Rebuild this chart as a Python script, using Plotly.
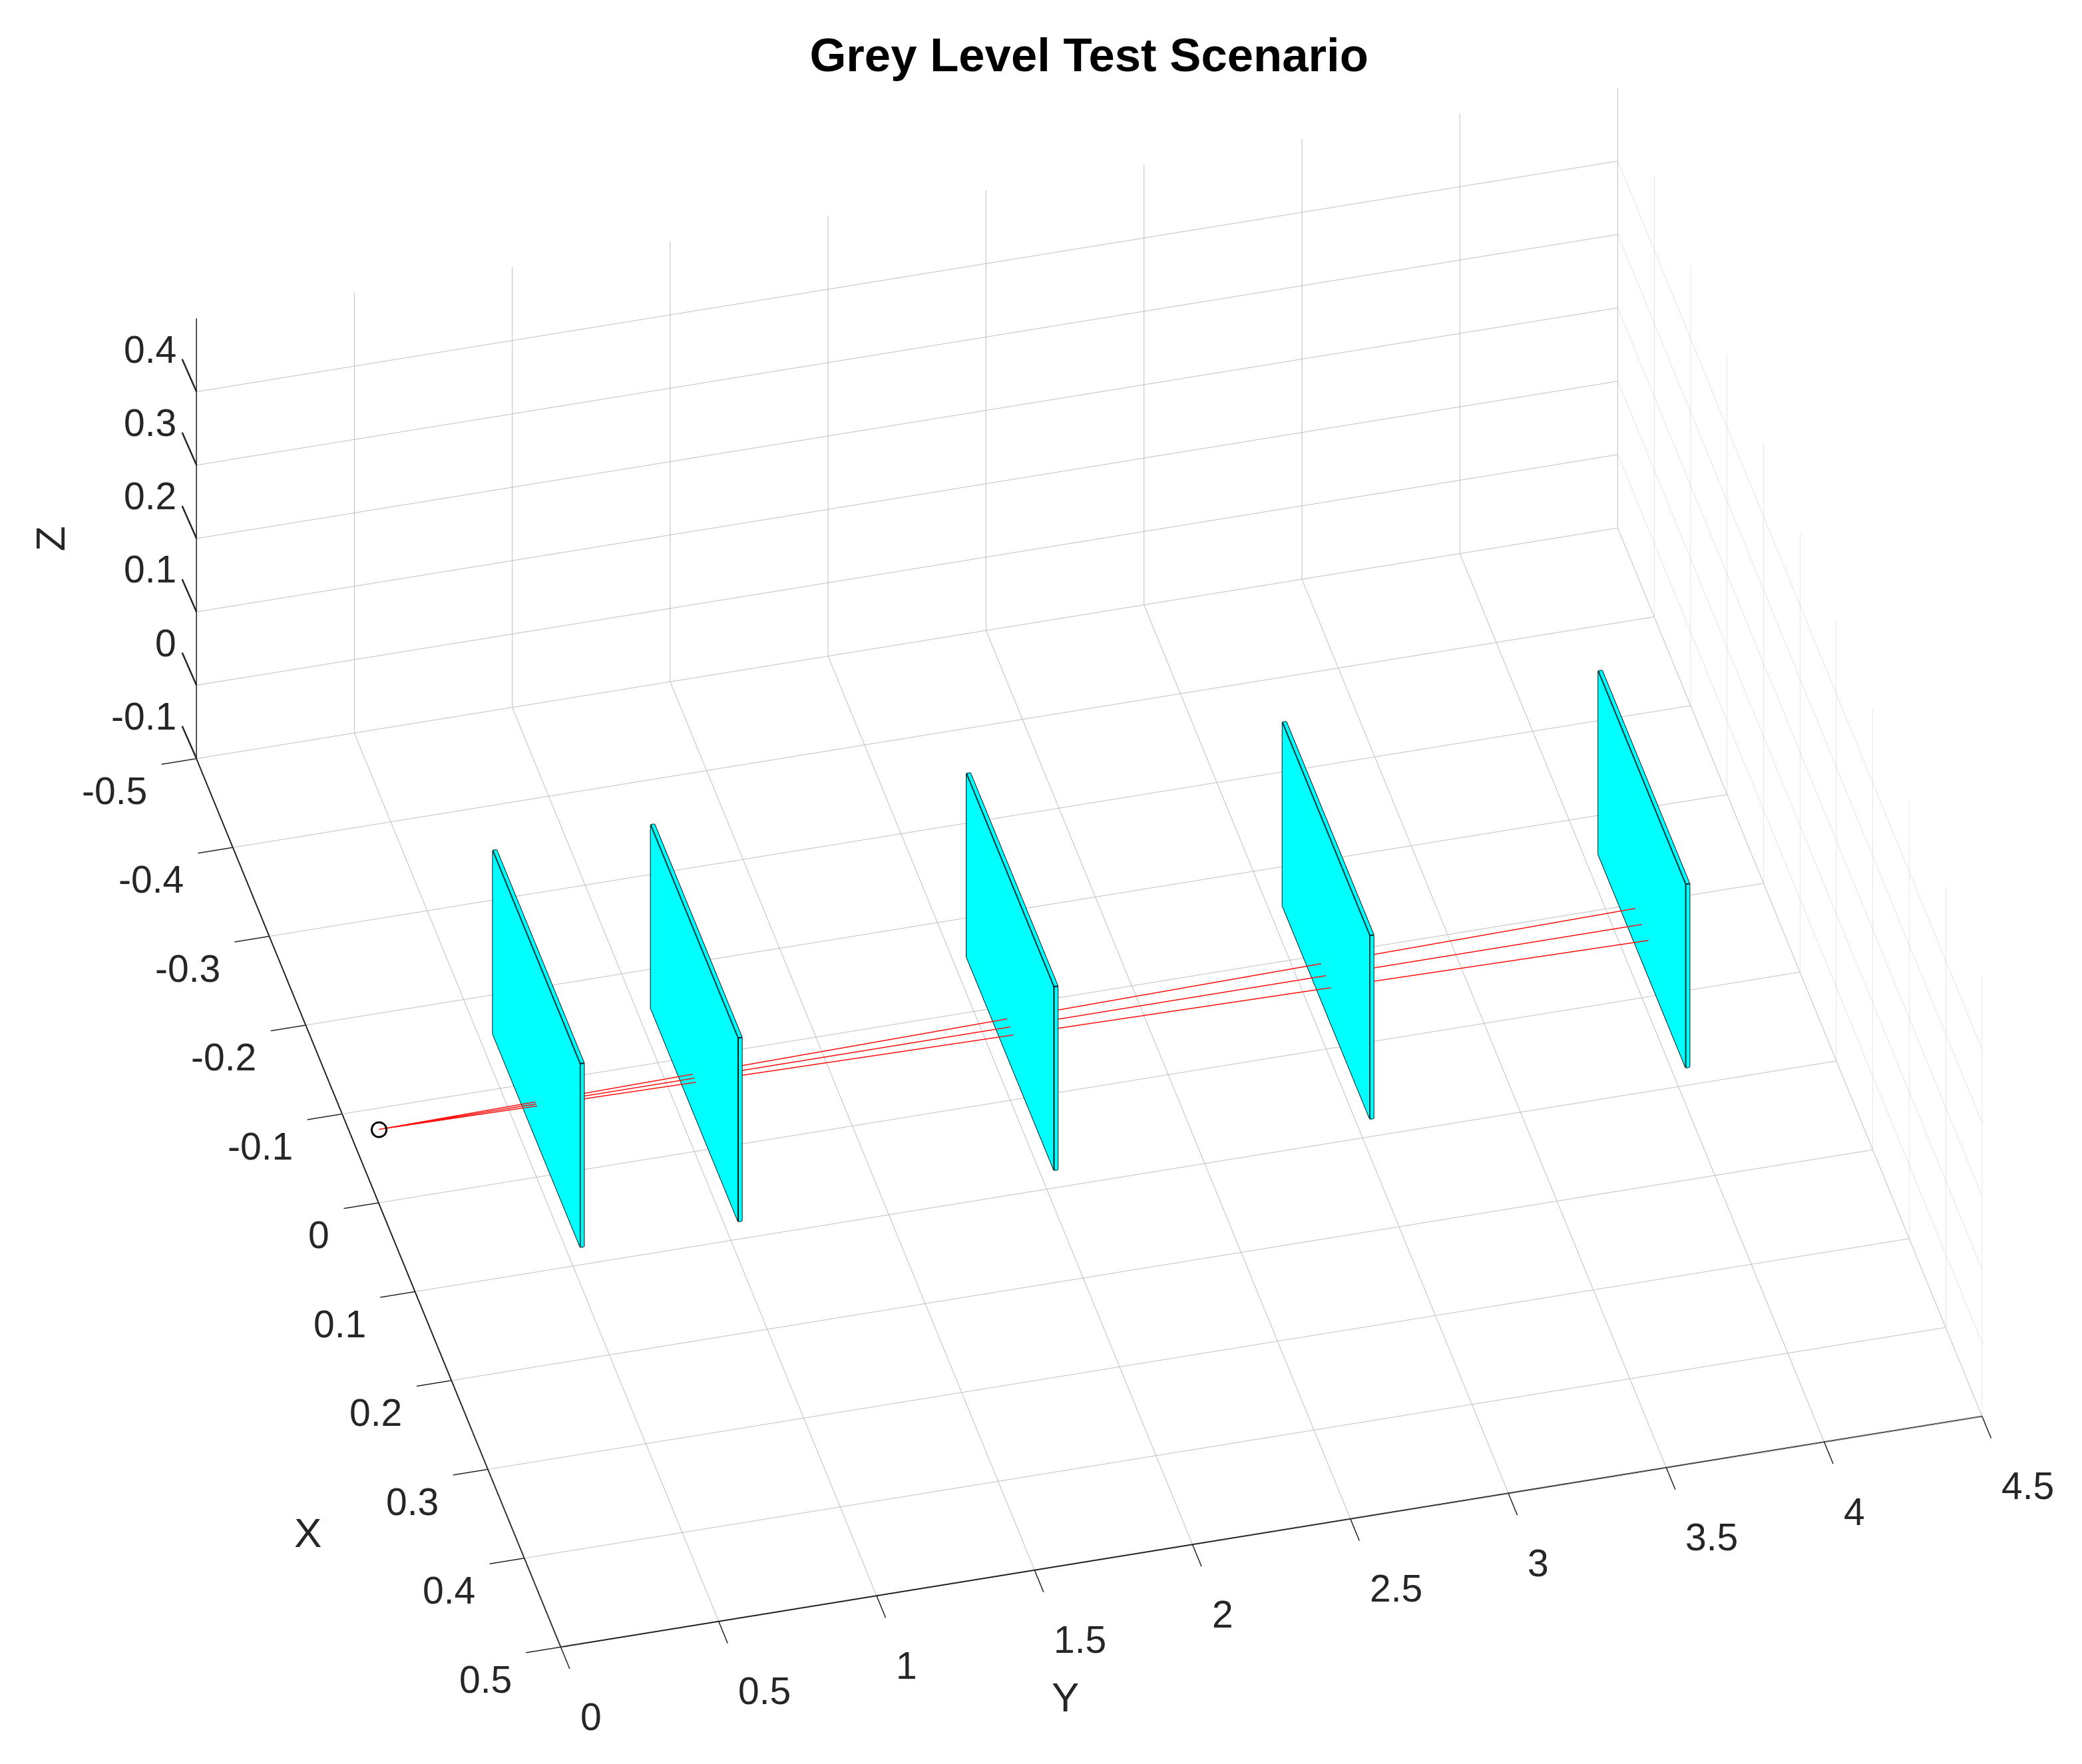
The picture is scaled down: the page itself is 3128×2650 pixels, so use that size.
import plotly.graph_objects as go

title_text = "Grey Level Test Scenario"
panel_y = [0.5, 1.0, 2.0, 3.0, 4.0]
panel_half_width = 0.12
panel_thickness = 0.012
panel_z = [-0.05, 0.2]
ray_half_spread = [-0.0045, 0.0, 0.0045]
ray_origin = [0.0, 0.0, 0.0]
x_ticks = [-0.5, -0.4, -0.3, -0.2, -0.1, 0, 0.1, 0.2, 0.3, 0.4, 0.5]
x_labels = ["-0.5", "-0.4", "-0.3", "-0.2", "-0.1", "0", "0.1", "0.2", "0.3", "0.4", "0.5"]
y_ticks = [0, 0.5, 1, 1.5, 2, 2.5, 3, 3.5, 4, 4.5]
y_labels = ["0", "0.5", "1", "1.5", "2", "2.5", "3", "3.5", "4", "4.5"]
z_ticks = [-0.1, 0, 0.1, 0.2, 0.3, 0.4]
z_labels = ["-0.1", "0", "0.1", "0.2", "0.3", "0.4"]

fig = go.Figure()
FONT = "Liberation Sans"
W = panel_half_width
Z0, Z1 = panel_z
for y in panel_y:
    y1 = y + panel_thickness
    xs = [-W, W, W, -W, -W, W, W, -W]
    ys = [y, y, y1, y1, y, y, y1, y1]
    zs = [Z0, Z0, Z0, Z0, Z1, Z1, Z1, Z1]
    fig.add_trace(go.Mesh3d(
        x=xs, y=ys, z=zs,
        i=[0, 0, 4, 4, 0, 0, 1, 1, 2, 2, 3, 3],
        j=[1, 2, 5, 6, 1, 5, 2, 6, 3, 7, 0, 4],
        k=[2, 3, 6, 7, 5, 4, 6, 5, 7, 6, 4, 7],
        color="#00ffff", flatshading=True, showlegend=False, hoverinfo="skip",
        lighting=dict(ambient=1, diffuse=0, specular=0, roughness=1, fresnel=0),
    ))
    ex, ey, ez = [], [], []
    for a, b in [(0, 1), (1, 2), (2, 3), (3, 0), (4, 5), (5, 6), (6, 7), (7, 4),
                 (0, 4), (1, 5), (2, 6), (3, 7)]:
        ex += [xs[a], xs[b], None]
        ey += [ys[a], ys[b], None]
        ez += [zs[a], zs[b], None]
    fig.add_trace(go.Scatter3d(x=ex, y=ey, z=ez, mode="lines",
                               line=dict(color="#06181a", width=4),
                               showlegend=False, hoverinfo="skip"))

rx, ry, rz = [], [], []
prev = 0.0
for y in panel_y:
    for s in ray_half_spread:
        rx += [ray_origin[0] + s * prev, ray_origin[0] + s * y, None]
        ry += [prev + (panel_thickness if prev else 0), y, None]
        rz += [ray_origin[2], ray_origin[2], None]
    prev = y
fig.add_trace(go.Scatter3d(x=rx, y=ry, z=rz, mode="lines",
                           line=dict(color="#ff1010", width=3),
                           showlegend=False, hoverinfo="skip"))
fig.add_trace(go.Scatter3d(x=[ray_origin[0]], y=[ray_origin[1]], z=[ray_origin[2]],
                           mode="markers",
                           marker=dict(symbol="circle-open", size=14, color="black",
                                       line=dict(color="black", width=4)),
                           showlegend=False, hoverinfo="skip"))

def axis(rng, ticks, tick_style="outside"):
    return dict(range=rng, tickmode="array", tickvals=ticks, showticklabels=False,
                title=dict(text=""),
                showgrid=True, gridcolor="#bfbfbf", gridwidth=2,
                showline=True, linecolor="#1f1f1f", linewidth=4,
                ticks=tick_style, ticklen=54, tickcolor="#1f1f1f", tickwidth=3,
                showbackground=False, zeroline=False, showspikes=False, autorange=False)

TICK = dict(family=FONT, size=57, color="#262626")
LABEL = dict(family=FONT, size=62, color="#262626")
ann = []
for v, t in zip(x_ticks, x_labels):
    ann.append(dict(x=v, y=0, z=-0.1, text=t, showarrow=False, font=TICK,
                    xanchor="right", yanchor="middle", xshift=-72, yshift=-48))
for v, t in zip(y_ticks, y_labels):
    ann.append(dict(x=0.5, y=v, z=-0.1, text=t, showarrow=False, font=TICK,
                    xanchor="left", yanchor="middle", xshift=27, yshift=-104))
for v, t in zip(z_ticks, z_labels):
    ann.append(dict(x=-0.5, y=0, z=v, text=t, showarrow=False, font=TICK,
                    xanchor="right", yanchor="middle", xshift=-28, yshift=64))
    ann.append(dict(x=-0.5, y=0, z=v, text=" ", showarrow=True, arrowhead=0, arrowwidth=2.5,
                    arrowcolor="#262626", ax=-22, ay=-50, standoff=0, borderpad=0,
                    font=dict(size=1)))
ann.append(dict(x=0.5, y=0, z=-0.1, text="X", showarrow=False, font=LABEL,
                xanchor="center", yanchor="middle", xshift=-380, yshift=172))
ann.append(dict(x=0.5, y=2.25, z=-0.1, text="Y", showarrow=False, font=LABEL,
                xanchor="center", yanchor="middle", xshift=-310, yshift=-248))
ann.append(dict(x=-0.5, y=0, z=0.2, text="Z", showarrow=False, font=LABEL, textangle=-90,
                xanchor="center", yanchor="middle", xshift=-220, yshift=0))

EYE = 1.3
fig.update_layout(
    width=3128, height=2650, margin=dict(l=0, r=0, t=0, b=0),
    paper_bgcolor="white", showlegend=False,
    title=dict(text=title_text, x=0.5205, y=0.9718, xanchor="center", yanchor="middle",
               font=dict(family=FONT, size=70.7, color="black", weight="bold")),
    scene=dict(
        domain=dict(x=[0.0413, 1], y=[0.0225, 1]),
        xaxis=axis([-0.5, 0.5], x_ticks),
        yaxis=axis([0, 4.5], y_ticks),
        zaxis=axis([-0.1, 0.5], z_ticks, ""),
        annotations=ann,
        aspectmode="manual", aspectratio=dict(x=1.692, y=1.703, z=0.657),
        camera=dict(projection=dict(type="orthographic"),
                    up=dict(x=0, y=0, z=1),
                    center=dict(x=0, y=0, z=0),
                    eye=dict(x=0.7527 * EYE, y=-0.1942 * EYE, z=0.629 * EYE)),
    ),
)
fig.write_html("out.html")
